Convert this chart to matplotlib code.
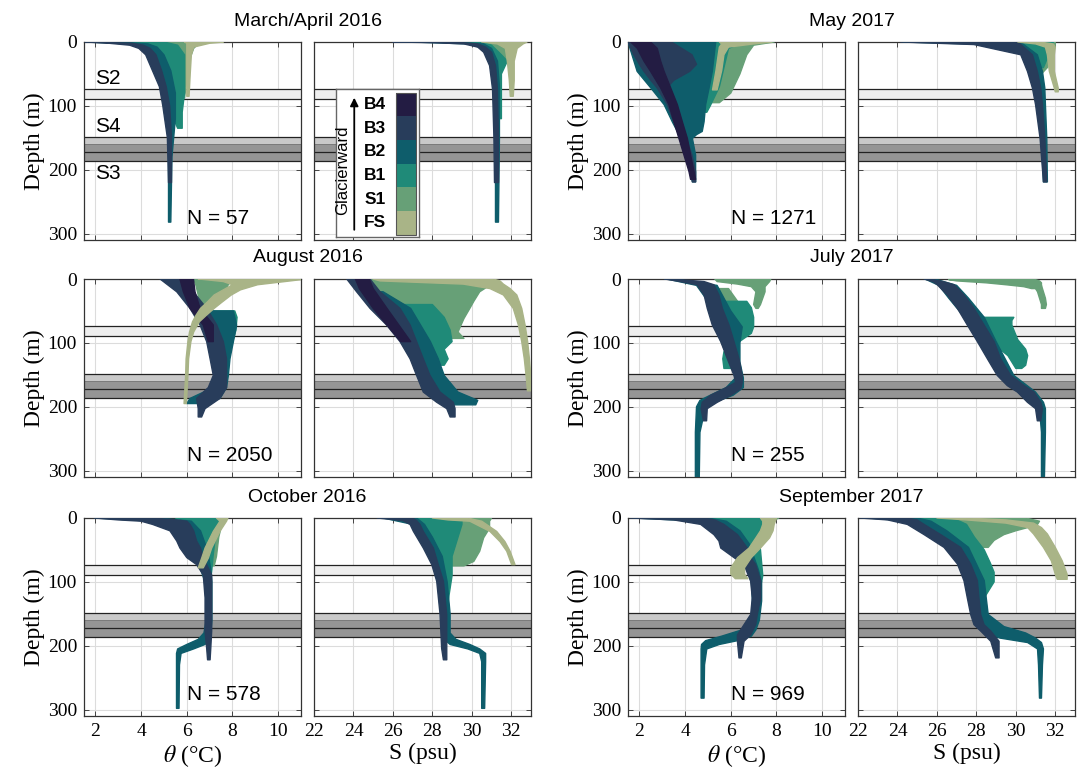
import matplotlib
matplotlib.use("Agg")
import matplotlib.pyplot as plt
from matplotlib.patches import Rectangle

# ---- station colours (legend order, bottom -> top) ----
stations = ["FS", "S1", "B1", "B2", "B3", "B4"]
station_colors = ["#a9b487", "#67a077", "#1f8a78", "#0e5d6b", "#283d5b", "#231c43"]
draw_order = ["S1", "B1", "B2", "B3", "B4", "FS"]

# depth bands (m): light band and sill band edges
light_band = (74, 89)
sill_band = (148, 160, 172, 186)

# ---- profile envelopes: (depth, min value, max value) ----
mar16_t = {
    "S1": [([0, 3, 10, 30, 60, 88], [4.3, 5.0, 5.2, 5.4, 5.6, 5.8], [7.0, 6.5, 6.3, 6.1, 6.0, 5.9])],
    "B1": [([0, 5, 20, 50, 80, 110, 135], [3.5, 4.2, 4.6, 4.9, 5.1, 5.3, 5.6], [5.0, 5.6, 5.9, 5.9, 5.9, 5.8, 5.8])],
    "B2": [([0, 3, 8, 20, 45, 80, 120, 180, 282], [1.6, 3.5, 4.2, 4.5, 4.8, 5.0, 5.15, 5.2, 5.2],
            [3.0, 4.3, 4.7, 5.0, 5.3, 5.5, 5.5, 5.35, 5.3])],
    "B3": [([0, 2, 5, 10, 20, 45, 70, 100, 150, 220], [1.55, 2.6, 3.5, 3.9, 4.2, 4.5, 4.8, 4.95, 5.15, 5.2],
            [1.9, 3.6, 4.1, 4.4, 4.65, 4.9, 5.1, 5.25, 5.33, 5.33])],
    "FS": [([0, 2, 8, 20, 50, 85], [5.9, 6.0, 6.0, 6.0, 6.0, 6.0], [7.6, 7.0, 6.3, 6.2, 6.15, 6.1])],
}
mar16_s = {
    "S1": [([0, 3, 10, 25, 40], [29.7, 30.5, 30.9, 31.2, 31.3], [32.6, 32.1, 31.9, 31.8, 31.6])],
    "B1": [([0, 5, 20, 30, 50, 80, 120], [29.5, 30.4, 30.9, 31.0, 31.1, 31.2, 31.3],
            [30.5, 31.0, 31.5, 31.8, 31.5, 31.5, 31.5])],
    "B2": [([0, 3, 10, 30, 70, 150, 282], [27.0, 29.8, 30.6, 30.95, 31.1, 31.2, 31.2],
            [29.0, 30.6, 31.0, 31.3, 31.4, 31.4, 31.35])],
    "B3": [([0, 1, 3, 8, 16, 37, 74, 150, 220], [26.0, 28.0, 29.6, 30.3, 30.6, 30.9, 31.05, 31.12, 31.15],
            [27.5, 29.5, 30.3, 30.7, 31.0, 31.2, 31.3, 31.35, 31.35])],
    "FS": [([0, 3, 10, 30, 60, 85], [30.5, 31.3, 31.7, 31.8, 31.9, 31.95], [32.8, 32.6, 32.3, 32.15, 32.15, 32.1])],
}
may17_t = {
    "S1": [([0, 5, 20, 50, 80, 95], [5.4, 5.5, 5.5, 5.4, 5.2, 5.1], [7.9, 7.0, 6.7, 6.4, 6.0, 5.5])],
    "B1": [([0, 10, 40, 70, 100, 110], [4.9, 5.0, 5.0, 4.9, 4.8, 4.8], [6.6, 5.9, 5.7, 5.5, 5.1, 4.95])],
    "B2": [([0, 46, 72, 98, 125, 140, 145, 151, 177, 203, 219],
            [1.5, 1.9, 2.5, 3.08, 3.44, 3.66, 3.7, 3.8, 4.02, 4.24, 4.32],
            [5.34, 5.19, 5.05, 4.9, 4.83, 4.75, 4.5, 4.32, 4.46, 4.46, 4.46])],
    "B3": [([0, 20, 35, 46, 60, 72, 98, 125, 151, 177, 203, 219],
            [1.5, 1.76, 2.0, 2.2, 2.5, 2.78, 3.22, 3.51, 3.8, 4.02, 4.24, 4.32],
            [3.4, 4.3, 4.5, 4.2, 3.5, 3.2, 3.5, 3.8, 4.05, 4.3, 4.46, 4.46])],
    "B4": [([0, 10, 30, 46, 72, 98, 125, 151, 177, 203, 215],
            [1.62, 1.91, 2.2, 2.49, 2.93, 3.29, 3.51, 3.73, 3.95, 4.17, 4.24],
            [2.49, 2.78, 2.93, 3.08, 3.37, 3.66, 3.88, 4.1, 4.24, 4.39, 4.46])],
    "FS": [([0, 3, 8, 20, 45, 75], [5.5, 5.6, 5.5, 5.45, 5.35, 5.2], [7.8, 7.0, 5.9, 5.7, 5.6, 5.4])],
}
may17_s = {
    "S1": [([0, 5, 20, 40, 50], [30.0, 30.4, 30.8, 31.0, 31.0], [32.0, 32.0, 31.9, 31.6, 31.3])],
    "B1": [([0, 10, 25, 40], [30.0, 30.3, 30.6, 30.9], [31.9, 31.8, 31.6, 31.4])],
    "B2": [([0, 4, 20, 46, 72, 98, 151, 219], [24.3, 28.7, 30.4, 30.9, 31.1, 31.2, 31.3, 31.4],
            [30.25, 30.4, 31.09, 31.35, 31.47, 31.5, 31.57, 31.6])],
    "B3": [([0, 4, 20, 46, 72, 98, 151, 219], [24.16, 27.88, 30.25, 30.59, 30.84, 31.0, 31.23, 31.4],
            [30.08, 30.25, 30.84, 31.09, 31.26, 31.35, 31.47, 31.57])],
    "FS": [([0, 3, 8, 20, 46, 72, 78], [30.1, 31.0, 31.5, 31.6, 31.7, 31.95, 32.0],
            [31.2, 31.9, 32.0, 31.95, 31.95, 32.15, 32.15])],
}
aug16_t = {
    "S1": [([0, 10, 25, 45], [6.3, 6.4, 6.5, 6.6], [8.0, 7.8, 7.6, 7.0])],
    "B1": [([50, 60, 80, 100, 120], [7.0, 7.3, 7.5, 7.6, 7.6], [8.1, 8.2, 8.15, 8.0, 7.8])],
    "B2": [([50, 72, 98, 125, 151, 170, 187, 195], [6.43, 6.8, 7.02, 7.16, 7.31, 7.16, 6.14, 6.0],
            [8.04, 8.18, 8.04, 7.89, 7.82, 7.74, 7.45, 6.58])],
    "B3": [([0, 20, 46, 72, 98, 125, 151, 170, 187, 203, 216],
            [4.83, 5.56, 6.14, 6.58, 6.87, 7.02, 7.16, 6.94, 6.43, 6.5, 6.5],
            [6.29, 6.29, 6.87, 7.31, 7.6, 7.74, 7.74, 7.74, 7.45, 6.8, 6.65])],
    "B4": [([0, 20, 46, 72, 98], [5.7, 5.85, 6.14, 6.72, 6.94], [6.29, 6.36, 6.58, 7.16, 7.16])],
    "FS": [([0, 1, 4, 9, 17, 25, 36, 46, 57, 67, 83, 98, 125, 151, 195],
            [6.5, 6.8, 7.6, 8.0, 7.6, 7.2, 6.9, 6.6, 6.4, 6.25, 6.12, 6.05, 5.97, 5.95, 5.88],
            [11.0, 11.0, 10.3, 9.1, 8.35, 7.95, 7.55, 7.2, 6.85, 6.55, 6.3, 6.18, 6.08, 6.05, 5.98])],
}
aug16_s = {
    "S1": [([0, 10, 20, 35, 46, 62, 83, 93], [24.8, 25.0, 25.1, 25.2, 25.3, 25.7, 26.3, 26.6],
            [30.9, 30.9, 30.4, 30.1, 29.9, 29.6, 29.3, 29.6])],
    "B1": [([40, 60, 80, 98, 110, 125, 135], [25.8, 26.3, 26.8, 27.0, 27.2, 27.4, 27.6],
            [28.0, 28.6, 28.9, 29.0, 28.6, 28.8, 28.6])],
    "B2": [([20, 46, 72, 98, 125, 151, 177, 190, 197], [24.5, 25.2, 25.8, 26.6, 27.1, 27.5, 27.9, 28.3, 29.0],
            [25.5, 26.9, 27.4, 27.9, 28.3, 28.6, 29.3, 30.3, 30.2])],
    "B3": [([0, 20, 46, 72, 98, 125, 151, 177, 193, 203, 216],
            [23.66, 24.16, 24.84, 25.68, 26.36, 26.87, 27.2, 27.54, 28.22, 28.73, 28.9],
            [24.84, 25.35, 26.36, 26.87, 27.2, 27.54, 27.88, 28.39, 29.06, 29.15, 29.15])],
    "B4": [([0, 15, 46, 72, 98], [24.1, 24.3, 25.0, 25.7, 26.4], [24.8, 25.0, 25.7, 26.3, 26.9])],
    "FS": [([0, 3, 8, 15, 25, 46, 72, 98, 125, 151, 175],
            [25.0, 25.35, 29.57, 30.92, 31.6, 32.1, 32.36, 32.53, 32.66, 32.75, 32.82],
            [31.09, 31.43, 31.6, 31.94, 32.28, 32.53, 32.7, 32.83, 32.92, 32.99, 33.0])],
}
jul17_t = {
    "S1": [([0, 4, 8, 12, 20, 30, 40, 46], [5.3, 5.4, 6.3, 6.9, 7.1, 7.05, 7.0, 7.1],
            [7.75, 7.7, 7.6, 7.5, 7.5, 7.4, 7.3, 7.2]),
           ([15, 25, 35, 45, 55, 65, 75], [5.4, 5.5, 5.7, 5.9, 6.1, 6.3, 6.3],
            [5.9, 6.1, 6.3, 6.5, 6.6, 6.55, 6.45])],
    "B1": [([35, 45, 60, 75, 85, 100, 114, 125, 140], [5.5, 5.5, 5.7, 5.9, 6.1, 6.0, 5.7, 5.65, 5.7],
            [6.7, 6.9, 7.0, 7.0, 6.9, 6.3, 6.2, 6.1, 6.0])],
    "B2": [([0, 10, 30, 50, 75, 100, 130, 155, 170, 182, 190, 200, 240, 310],
            [3.2, 4.5, 4.9, 5.1, 5.3, 5.6, 5.95, 6.2, 5.8, 5.1, 4.65, 4.5, 4.45, 4.45],
            [3.5, 5.4, 5.7, 6.0, 6.5, 6.4, 6.4, 6.55, 6.55, 6.1, 5.5, 4.9, 4.65, 4.62])],
    "B3": [([0, 4, 9, 25, 46, 72, 98, 125, 151, 162, 172, 182, 193, 203, 222],
            [3.1, 3.8, 4.53, 4.83, 4.97, 5.19, 5.56, 5.85, 6.14, 6.21, 5.7, 5.12, 4.75, 4.7, 4.8],
            [3.4, 4.83, 5.26, 5.48, 5.63, 5.92, 6.14, 6.36, 6.5, 6.5, 6.43, 6.0, 5.41, 4.97, 4.94])],
}
jul17_s = {
    "S1": [([1, 3, 6, 9, 12, 15], [26.6, 27.0, 28.5, 29.5, 30.4, 30.8], [31.0, 31.2, 31.3, 31.3, 31.3, 31.2]),
           ([10, 20, 30, 40, 46], [30.9, 31.1, 31.2, 31.3, 31.3], [31.3, 31.4, 31.5, 31.55, 31.5])],
    "B1": [([60, 65, 72, 80, 95, 110, 120, 135, 140], [27.9, 28.0, 28.3, 28.5, 28.8, 29.2, 29.6, 29.9, 30.0],
            [29.9, 29.8, 29.8, 29.9, 30.1, 30.5, 30.6, 30.5, 30.3])],
    "B2": [([0, 10, 30, 60, 98, 151, 177, 193, 203, 240, 310],
            [25.4, 26.1, 26.6, 27.4, 28.1, 29.2, 30.1, 30.8, 31.2, 31.3, 31.3],
            [25.9, 27.0, 27.6, 28.4, 29.0, 29.9, 31.0, 31.4, 31.5, 31.5, 31.45])],
    "B3": [([0, 4, 9, 25, 46, 72, 98, 125, 151, 167, 177, 193, 203, 222],
            [25.35, 25.8, 26.02, 26.53, 27.04, 27.54, 28.05, 28.56, 29.06, 29.57, 30.08, 30.59, 31.0, 31.09],
            [25.7, 26.3, 26.87, 27.37, 27.88, 28.39, 28.9, 29.23, 29.74, 30.42, 30.92, 31.26, 31.35, 31.26])],
}
oct16_t = {
    "S1": [([0, 5, 15, 30, 45, 60, 75], [6.2, 6.4, 6.6, 6.7, 6.8, 6.9, 7.0], [7.75, 7.6, 7.5, 7.4, 7.35, 7.3, 7.2])],
    "B1": [([0, 5, 15, 30, 45, 60, 80, 95], [5.5, 6.0, 6.3, 6.5, 6.6, 6.7, 6.85, 6.95],
            [7.5, 7.4, 7.3, 7.25, 7.2, 7.15, 7.1, 7.05])],
    "B2": [([0, 5, 20, 40, 60, 80, 100, 130, 160, 180, 190, 198, 205, 212, 230, 298],
            [2.0, 4.5, 5.5, 6.0, 6.3, 6.6, 6.8, 6.85, 6.85, 6.75, 6.5, 6.0, 5.6, 5.55, 5.55, 5.55],
            [4.8, 6.2, 6.6, 6.8, 6.95, 7.05, 7.1, 7.1, 7.1, 7.05, 6.95, 6.8, 6.3, 5.75, 5.68, 5.66])],
    "B3": [([0, 3, 5, 10, 20, 36, 47, 62, 73, 89, 125, 177, 204, 222],
            [1.95, 3.0, 4.0, 4.5, 5.26, 5.56, 5.7, 6.0, 6.43, 6.72, 6.8, 6.8, 6.87, 6.91],
            [4.5, 5.5, 6.0, 6.14, 6.3, 6.43, 6.6, 6.72, 6.87, 7.09, 7.09, 7.09, 7.05, 7.02])],
    "FS": [([0, 5, 21, 47, 63, 78], [7.3, 7.45, 7.16, 6.8, 6.65, 6.5], [7.8, 7.74, 7.45, 7.09, 6.94, 6.72])],
}
oct16_s = {
    "S1": [([0, 5, 16, 31, 52, 68, 75], [27.0, 27.3, 27.5, 27.7, 28.0, 28.3, 28.5],
            [31.0, 30.9, 30.9, 30.6, 30.4, 30.1, 29.6])],
    "B1": [([0, 10, 30, 60, 90, 110, 130, 140], [26.0, 27.3, 27.6, 28.0, 28.2, 28.35, 28.5, 28.6],
            [29.5, 29.5, 29.3, 29.0, 29.0, 28.9, 28.8, 28.7])],
    "B2": [([0, 10, 30, 60, 100, 150, 180, 190, 198, 205, 212, 225, 298],
            [25.5, 27.0, 27.5, 28.0, 28.3, 28.5, 28.55, 28.6, 28.9, 29.8, 30.4, 30.5, 30.5],
            [27.2, 27.6, 28.0, 28.5, 28.75, 28.9, 28.9, 29.2, 29.9, 30.4, 30.7, 30.7, 30.65])],
    "B3": [([0, 4, 10, 21, 47, 73, 99, 151, 204, 222],
            [25.2, 26.5, 26.87, 27.04, 27.54, 27.97, 28.22, 28.39, 28.47, 28.56],
            [27.0, 27.2, 27.37, 27.54, 28.05, 28.3, 28.56, 28.73, 28.73, 28.73])],
    "FS": [([0, 3, 5, 21, 37, 52, 73], [28.0, 28.8, 29.9, 30.92, 31.43, 31.77, 32.02],
            [29.8, 30.2, 30.5, 31.26, 31.68, 31.94, 32.19])],
}
sep17_t = {
    "S1": [([0, 5, 15, 25, 35], [5.5, 6.3, 6.6, 6.8, 7.0], [8.1, 7.8, 7.6, 7.4, 7.3])],
    "B1": [([0, 5, 15, 30, 50, 70, 90, 100], [5.0, 5.8, 6.0, 6.2, 6.5, 6.8, 7.0, 7.1],
            [8.0, 7.5, 7.3, 7.2, 7.3, 7.35, 7.4, 7.35])],
    "B2": [([0, 5, 20, 40, 60, 80, 100, 130, 160, 175, 185, 192, 198, 205, 230, 282],
            [1.8, 4.6, 5.4, 5.9, 6.3, 6.7, 6.9, 6.95, 6.9, 6.5, 5.6, 4.9, 4.72, 4.7, 4.7, 4.7],
            [5.0, 5.8, 6.4, 6.8, 7.0, 7.2, 7.35, 7.35, 7.25, 7.1, 6.9, 6.3, 5.5, 4.95, 4.85, 4.83])],
    "B3": [([0, 3, 10, 26, 36, 47, 62, 73, 99, 125, 151, 167, 183, 193, 219],
            [1.6, 3.5, 4.68, 5.26, 5.48, 5.56, 6.14, 6.58, 6.87, 6.94, 6.87, 6.58, 6.29, 6.29, 6.36],
            [4.8, 5.3, 5.7, 6.29, 6.5, 6.72, 6.87, 7.09, 7.31, 7.31, 7.16, 7.09, 6.87, 6.58, 6.46])],
    "FS": [([0, 5, 10, 20, 31, 47, 62, 78, 88, 95], [7.3, 7.4, 7.4, 7.3, 7.1, 6.8, 6.3, 6.0, 6.0, 6.2],
            [8.0, 7.95, 7.9, 7.85, 7.7, 7.3, 6.9, 6.6, 6.6, 6.75])],
}
sep17_s = {
    "S1": [([0, 5, 10, 15, 20, 26, 35, 46], [25.5, 26.0, 26.5, 27.0, 27.5, 27.8, 28.0, 28.2],
            [30.5, 31.2, 31.1, 30.6, 30.0, 29.4, 28.9, 28.6])],
    "B1": [([0, 10, 30, 50, 70, 85, 100, 120, 130], [24.5, 25.5, 26.2, 26.8, 27.2, 27.4, 27.6, 27.8, 27.9],
            [26.8, 27.5, 27.9, 28.4, 28.7, 28.9, 28.9, 28.5, 28.3])],
    "B2": [([0, 5, 20, 46, 72, 98, 125, 151, 170, 180, 188, 195, 205, 230, 282],
            [22.5, 24.6, 25.5, 26.6, 27.3, 27.7, 27.9, 28.0, 28.2, 28.5, 29.2, 30.6, 31.1, 31.15, 31.2],
            [25.0, 25.7, 26.5, 27.6, 28.0, 28.4, 28.5, 28.6, 29.4, 30.5, 31.0, 31.3, 31.4, 31.35, 31.3])],
    "B3": [([0, 3, 10, 26, 46, 72, 98, 125, 151, 167, 177, 193, 219],
            [22.1, 23.5, 24.5, 25.35, 26.36, 27.04, 27.37, 27.54, 27.71, 27.88, 28.22, 28.73, 28.98],
            [24.5, 25.0, 25.35, 26.19, 27.2, 27.71, 28.05, 28.13, 28.22, 28.39, 28.73, 29.15, 29.15])],
    "FS": [([0, 3, 8, 15, 25, 46, 67, 88, 96], [26.0, 27.5, 29.5, 30.6, 30.9, 31.4, 31.8, 32.0, 32.1],
            [27.5, 29.5, 30.9, 31.3, 31.6, 32.0, 32.35, 32.6, 32.6])],
}

titles = ["March/April 2016", "May 2017", "August 2016", "July 2017", "October 2016", "September 2017"]
counts = [57, 1271, 2050, 255, 578, 969]
panel_data = [(mar16_t, mar16_s), (may17_t, may17_s), (aug16_t, aug16_s),
              (jul17_t, jul17_s), (oct16_t, oct16_s), (sep17_t, sep17_s)]

plt.rcParams["font.family"] = ["Liberation Serif", "DejaVu Serif"]
plt.rcParams["mathtext.fontset"] = "stix"
SANS = ["Liberation Sans", "DejaVu Sans"]
col = dict(zip(stations, station_colors))

fig = plt.figure(figsize=(10.83, 7.78), dpi=100)
W, H = 1083.0, 778.0
col_left = [(84, 314), (628, 858)]
row_top = [42, 279, 518]
ax_w, ax_h = 217, 198


def draw_profiles(ax, data):
    for st in draw_order:
        for d, lo, hi in data.get(st, []):
            xs = list(lo) + list(hi)[::-1]
            ys = list(d) + list(d)[::-1]
            ax.fill(xs, ys, facecolor=col[st], edgecolor=col[st], lw=1.0,
                    joinstyle="round", zorder=3)


def style(ax, kind, bottom):
    ax.set_ylim(310, 0)
    if kind == "T":
        ax.set_xlim(1.5, 11)
        ax.set_xticks([2, 4, 6, 8, 10])
    else:
        ax.set_xlim(22, 33)
        ax.set_xticks([22, 24, 26, 28, 30, 32])
    ax.set_yticks([0, 100, 200, 300])
    ax.grid(True, color="#dcdcdc", lw=0.8, zorder=0)
    ax.set_axisbelow(True)
    ax.tick_params(direction="in", top=True, right=True, length=3.5, width=0.7,
                   labelsize=14, pad=5, color="#444444")
    for sp in ax.spines.values():
        sp.set_color("#333333")
        sp.set_linewidth(0.9)
    if kind == "S":
        ax.tick_params(labelleft=False)
    else:
        ax.set_ylabel("Depth (m)", fontsize=17, labelpad=2)
    if bottom:
        ax.set_xlabel(r"$\theta$ (°C)" if kind == "T" else "S (psu)", fontsize=17, labelpad=2)
    else:
        ax.tick_params(labelbottom=False)
    # depth bands
    ax.axhspan(light_band[0], light_band[1], color="#eeeeee", lw=0, zorder=1)
    ax.axhspan(sill_band[0], sill_band[1], color="#c9c9c9", lw=0, zorder=1)
    ax.axhspan(sill_band[1], sill_band[3], color="#959595", lw=0, zorder=1)
    for y in light_band + (sill_band[0], sill_band[2], sill_band[3]):
        ax.axhline(y, color="#222222", lw=0.9, zorder=2)
    ax.axhline(sill_band[1], color="#777777", lw=0.6, zorder=2)


for i, (tdata, sdata) in enumerate(panel_data):
    r, c = i // 2, i % 2
    top = row_top[r]
    axes = []
    for j, (kind, data) in enumerate([("T", tdata), ("S", sdata)]):
        left = col_left[c][j]
        ax = fig.add_axes([left / W, 1 - (top + ax_h) / H, ax_w / W, ax_h / H])
        style(ax, kind, r == 2)
        draw_profiles(ax, data)
        axes.append(ax)
    axes[0].text(6.0, 277, f"N = {counts[i]}", fontsize=15, family=SANS, va="center", ha="left", zorder=5)
    xc = (col_left[c][0] + col_left[c][1] + ax_w) / 2 / W
    fig.text(xc, 1 - (top - 21) / H, titles[i], fontsize=14, family=SANS, ha="center", va="center")
    if i == 0:
        for lab, dep in [("S2", 57), ("S4", 133), ("S3", 206)]:
            axes[0].text(2.0, dep, lab, fontsize=15, family=SANS, va="center", ha="left", zorder=5)

# ---- legend inset (station colour key) ----
lg = fig.add_axes([336 / W, 1 - 237 / H, 83 / W, 148 / H])
lg.set_xlim(0, 1)
lg.set_ylim(0, 1)
lg.set_xticks([])
lg.set_yticks([])
lg.set_facecolor("white")
lg.set_zorder(10)
for sp in lg.spines.values():
    sp.set_color("#666666")
    sp.set_linewidth(1.0)
seg = 0.96 / len(stations)
for k, (st, cc) in enumerate(zip(stations, station_colors)):
    y0 = 0.015 + k * seg
    lg.add_patch(Rectangle((0.72, y0), 0.245, seg, facecolor=cc, edgecolor="none"))
    lg.text(0.47, y0 + seg / 2, st, fontsize=12.5, fontweight="bold", family=SANS, ha="center", va="center")
lg.add_patch(Rectangle((0.72, 0.015), 0.245, 0.96, facecolor="none", edgecolor="#555555", lw=0.8))
lg.annotate("", xy=(0.22, 0.96), xytext=(0.22, 0.03),
            arrowprops=dict(arrowstyle="-|>", color="black", lw=1.3, mutation_scale=12))
lg.text(0.085, 0.45, "Glacierward", rotation=90, fontsize=12, family=SANS, ha="center", va="center")

fig.savefig("out.png", dpi=100)
